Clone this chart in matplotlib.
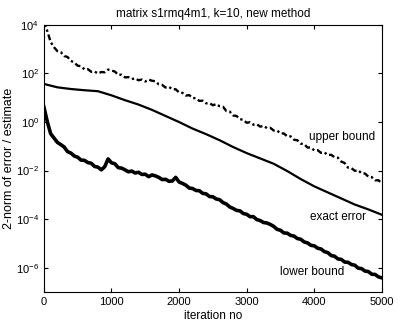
import numpy as np
import matplotlib
matplotlib.use("Agg")
import matplotlib.pyplot as plt

plt.rcParams['font.family'] = ['Liberation Sans', 'DejaVu Sans']

# iteration numbers for the sampled curves
iters_bound = list(range(0, 5001, 50))
iters_exact = list(range(0, 5001, 200))

# log10 of the curves
upper_log10 = [4.15, 3.75, 3.30, 3.08, 2.92, 2.88, 2.72, 2.68, 2.52, 2.45,
               2.32, 2.30, 2.17, 2.18, 2.07, 2.08, 2.00, 2.06, 2.05, 2.16,
               2.12, 2.08, 1.94, 1.95, 1.84, 1.85, 1.77, 1.80, 1.72, 1.75,
               1.67, 1.75, 1.70, 1.68, 1.55, 1.53, 1.42, 1.45, 1.35, 1.35,
               1.22, 1.20, 1.09, 1.11, 0.99, 0.98, 0.87, 0.88, 0.77, 0.78,
               0.69, 0.74, 0.65, 0.63, 0.45, 0.43, 0.27, 0.25, 0.12, 0.09,
               -0.03, -0.01, -0.11, -0.09, -0.19, -0.16, -0.25, -0.24, -0.35, -0.35,
               -0.47, -0.47, -0.59, -0.59, -0.73, -0.75, -0.89, -0.91, -1.05, -1.05,
               -1.17, -1.16, -1.27, -1.25, -1.36, -1.35, -1.45, -1.47, -1.63, -1.69,
               -1.88, -1.90, -2.01, -1.99, -2.11, -2.12, -2.25, -2.27, -2.40, -2.40,
               -2.52]

lower_log10 = [0.62, 0.02, -0.48, -0.66, -0.84, -0.93, -1.03, -1.22, -1.28, -1.40,
               -1.45, -1.57, -1.58, -1.67, -1.70, -1.83, -1.86, -1.97, -1.84, -1.52,
               -1.68, -1.72, -1.88, -1.90, -1.97, -2.05, -2.02, -2.10, -2.07, -2.16,
               -2.15, -2.25, -2.18, -2.22, -2.28, -2.37, -2.36, -2.44, -2.43, -2.28,
               -2.47, -2.53, -2.60, -2.72, -2.74, -2.82, -2.83, -2.94, -2.96, -3.07,
               -3.08, -3.17, -3.20, -3.32, -3.38, -3.50, -3.56, -3.64, -3.66, -3.77,
               -3.80, -3.90, -3.90, -4.02, -4.06, -4.14, -4.16, -4.22, -4.30, -4.42,
               -4.46, -4.57, -4.58, -4.67, -4.70, -4.80, -4.83, -4.94, -4.98, -5.08,
               -5.10, -5.20, -5.23, -5.34, -5.38, -5.50, -5.53, -5.64, -5.66, -5.77,
               -5.78, -5.87, -5.90, -6.02, -6.04, -6.14, -6.16, -6.27, -6.28, -6.38,
               -6.42]

exact_log10 = [1.57, 1.43, 1.36, 1.31, 1.27, 1.10, 0.90, 0.72, 0.50, 0.25,
               0.00, -0.27, -0.50, -0.75, -1.03, -1.28, -1.50, -1.72, -2.02, -2.35,
               -2.65, -2.90, -3.15, -3.40, -3.60, -3.82]

upper = 10.0 ** np.array(upper_log10)
lower = 10.0 ** np.array(lower_log10)
exact = 10.0 ** np.array(exact_log10)

fig = plt.figure(figsize=(3.99, 3.24), dpi=100)
ax = fig.add_axes([0.110, 0.099, 0.847, 0.824])

ax.semilogy(iters_bound, upper, color="k", lw=1.7, ls=(0, (2.5, 1.2, 1.0, 1.2)))
ax.semilogy(iters_exact, exact, "k-", lw=1.6)
ax.semilogy(iters_bound, lower, "k-", lw=2.6)

ax.set_xlim(0, 5000)
ax.set_ylim(1e-7, 1e4)
ax.set_xticks([0, 1000, 2000, 3000, 4000, 5000])
ax.set_yticks([1e-6, 1e-4, 1e-2, 1e0, 1e2, 1e4])
ax.minorticks_off()
ax.tick_params(direction="in", top=True, right=True, labelsize=8, length=3)

ax.text(4410, 10**-0.60, "upper bound", fontsize=8.5, ha="center", va="center")
ax.text(4344, 10**-3.91, "exact error", fontsize=8.5, ha="center", va="center")
ax.text(3964, 10**-6.18, "lower bound", fontsize=8.5, ha="center", va="center")

ax.set_title("matrix s1rmq4m1, k=10, new method", fontsize=8.5)
ax.set_xlabel("iteration no", fontsize=8.5, labelpad=2)
ax.set_ylabel("2-norm of error / estimate", fontsize=9, labelpad=1)

fig.savefig("out.png", dpi=100)
